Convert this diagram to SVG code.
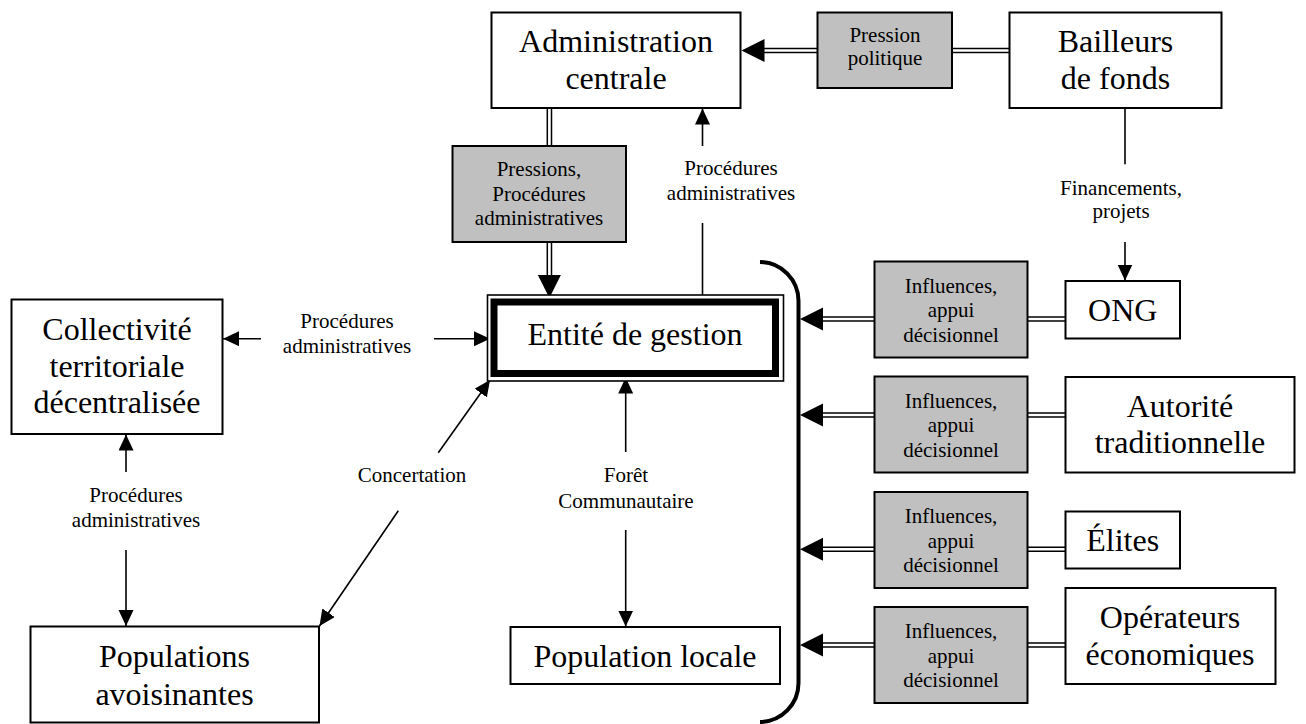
<svg xmlns="http://www.w3.org/2000/svg" xmlns:xlink="http://www.w3.org/1999/xlink" width="1306" height="724" viewBox="0 0 1306 724">
  <style>
    .box { fill: #ffffff; stroke: #000000; stroke-width: 2; }
    .gbox { fill: #c0c0c0; stroke: #000000; stroke-width: 2; }
    .big { font-family: "Liberation Serif", "Times New Roman", serif; font-size: 32px; fill: #000; text-anchor: middle; }
    .small { font-family: "Liberation Serif", "Times New Roman", serif; font-size: 21px; fill: #000; text-anchor: middle; }
    .ln { stroke: #000; stroke-width: 1.6; fill: none; }
    .dbl { stroke: #000; stroke-width: 1.5; fill: none; }
    .arr { stroke: #000; stroke-width: 1.6; fill: none; marker-end: url(#tip); }
    .head { fill: #000; }
  </style>
  <defs>
    <marker id="tip" markerUnits="userSpaceOnUse" markerWidth="17" markerHeight="16" refX="16" refY="7.5" orient="auto">
      <path d="M0,0 L16,7.5 L0,15 Z" fill="#000"/>
    </marker>
    <!-- large arrowhead for double-line links, pointing left, tip at origin -->
    <path id="bighead" d="M0,0 L23,-11.5 L23,11.5 Z"/>
  </defs>

  <rect width="1306" height="724" fill="#ffffff"/>

  <!-- connectors -->
  <g id="connectors">
    <!-- Bailleurs -> Pression politique -> Administration -->
    <line class="dbl" x1="952" y1="48.5" x2="1009" y2="48.5"/>
    <line class="dbl" x1="952" y1="52.5" x2="1009" y2="52.5"/>
    <line class="dbl" x1="763" y1="48.5" x2="817" y2="48.5"/>
    <line class="dbl" x1="763" y1="52.5" x2="817" y2="52.5"/>
    <use xlink:href="#bighead" class="head" transform="translate(741.5,50.5)"/>

    <!-- Administration -> Pressions -> Entité -->
    <line class="dbl" x1="547.3" y1="108" x2="547.3" y2="146"/>
    <line class="dbl" x1="551.5" y1="108" x2="551.5" y2="146"/>
    <line class="dbl" x1="547.3" y1="242" x2="547.3" y2="277"/>
    <line class="dbl" x1="551.5" y1="242" x2="551.5" y2="277"/>
    <use xlink:href="#bighead" class="head" transform="translate(549.4,298) rotate(-90)"/>

    <!-- Entité -> Administration (procédures) -->
    <line class="arr" x1="702.5" y1="146" x2="702.5" y2="108.5"/>
    <line class="ln" x1="702.5" y1="223" x2="702.5" y2="299"/>

    <!-- Collectivité <-> Entité -->
    <line class="arr" x1="261" y1="338.7" x2="223" y2="338.7"/>
    <line class="arr" x1="434" y1="338.7" x2="490" y2="338.7"/>

    <!-- Collectivité <-> Populations avoisinantes -->
    <line class="arr" x1="126" y1="472" x2="126" y2="434.5"/>
    <line class="arr" x1="126" y1="550" x2="126" y2="626"/>

    <!-- Concertation -->
    <line class="arr" x1="438.3" y1="452.7" x2="490" y2="380"/>
    <line class="arr" x1="398.3" y1="510.7" x2="319.5" y2="626"/>

    <!-- Forêt communautaire -->
    <line class="arr" x1="625.7" y1="452" x2="625.7" y2="377.5"/>
    <line class="arr" x1="625.7" y1="530" x2="625.7" y2="626.5"/>

    <!-- Bailleurs -> ONG -->
    <line class="ln" x1="1125" y1="108" x2="1125" y2="164.3"/>
    <line class="arr" x1="1125" y1="242" x2="1125" y2="280.5"/>

    <!-- bracket around Entité de gestion and Population locale -->
    <path d="M760,262 A39,39 0 0 1 798.5,301 L798.5,683 A39,39 0 0 1 760,722" stroke="#000" stroke-width="4" fill="none"/>

    <!-- influences from the right-hand actors -->
    <g>
      <line class="dbl" x1="821" y1="317" x2="874.5" y2="317"/>
      <line class="dbl" x1="821" y1="321" x2="874.5" y2="321"/>
      <line class="dbl" x1="1027.5" y1="317" x2="1065.5" y2="317"/>
      <line class="dbl" x1="1027.5" y1="321" x2="1065.5" y2="321"/>
      <use xlink:href="#bighead" class="head" transform="translate(800,319)"/>

      <line class="dbl" x1="821" y1="413" x2="874.5" y2="413"/>
      <line class="dbl" x1="821" y1="417" x2="874.5" y2="417"/>
      <line class="dbl" x1="1027.5" y1="413" x2="1065.5" y2="413"/>
      <line class="dbl" x1="1027.5" y1="417" x2="1065.5" y2="417"/>
      <use xlink:href="#bighead" class="head" transform="translate(800,415)"/>

      <line class="dbl" x1="821" y1="547.3" x2="874.5" y2="547.3"/>
      <line class="dbl" x1="821" y1="551.3" x2="874.5" y2="551.3"/>
      <line class="dbl" x1="1027.5" y1="547.3" x2="1065.5" y2="547.3"/>
      <line class="dbl" x1="1027.5" y1="551.3" x2="1065.5" y2="551.3"/>
      <use xlink:href="#bighead" class="head" transform="translate(800,549.3)"/>

      <line class="dbl" x1="821" y1="643" x2="874.5" y2="643"/>
      <line class="dbl" x1="821" y1="647" x2="874.5" y2="647"/>
      <line class="dbl" x1="1027.5" y1="643" x2="1065.5" y2="643"/>
      <line class="dbl" x1="1027.5" y1="647" x2="1065.5" y2="647"/>
      <use xlink:href="#bighead" class="head" transform="translate(800,645)"/>
    </g>

    <!-- connector labels -->
    <text class="small" x="731" y="175">Procédures</text>
    <text class="small" x="731" y="200">administratives</text>
    <text class="small" x="347" y="328.3">Procédures</text>
    <text class="small" x="347" y="353.3">administratives</text>
    <text class="small" x="136" y="501.7">Procédures</text>
    <text class="small" x="136" y="526.7">administratives</text>
    <text class="small" x="412" y="481.7">Concertation</text>
    <text class="small" x="626" y="482.3">Forêt</text>
    <text class="small" x="626" y="507.7">Communautaire</text>
    <text class="small" x="1121" y="195">Financements,</text>
    <text class="small" x="1121" y="218">projets</text>
  </g>

  <!-- nodes -->
  <g id="administration-centrale">
    <rect class="box" x="491.5" y="12.5" width="249" height="95.5"/>
    <text class="big" x="616" y="52">Administration</text>
    <text class="big" x="616" y="88.5">centrale</text>
  </g>

  <g id="pression-politique">
    <rect class="gbox" x="817.5" y="12.5" width="134.5" height="75.5"/>
    <text class="small" x="885" y="41.5">Pression</text>
    <text class="small" x="885" y="65">politique</text>
  </g>

  <g id="bailleurs-de-fonds">
    <rect class="box" x="1009.5" y="12.5" width="212" height="95.5"/>
    <text class="big" x="1115.5" y="52">Bailleurs</text>
    <text class="big" x="1115.5" y="88.5">de fonds</text>
  </g>

  <g id="pressions-procedures">
    <rect class="gbox" x="452.5" y="146" width="173.5" height="96"/>
    <text class="small" x="539" y="176">Pressions,</text>
    <text class="small" x="539" y="200.5">Procédures</text>
    <text class="small" x="539" y="225">administratives</text>
  </g>

  <g id="entite-de-gestion">
    <rect x="487.5" y="295" width="296" height="86" fill="#fff" stroke="#000" stroke-width="1.6"/>
    <rect x="494" y="302" width="281.5" height="71.5" fill="#fff" stroke="#000" stroke-width="7"/>
    <text class="big" x="635" y="344.5">Entité de gestion</text>
  </g>

  <g id="collectivite-territoriale">
    <rect class="box" x="11.5" y="299.5" width="211" height="134.5"/>
    <text class="big" x="117" y="340">Collectivité</text>
    <text class="big" x="117" y="376.7">territoriale</text>
    <text class="big" x="117" y="413.3">décentralisée</text>
  </g>

  <g id="populations-avoisinantes">
    <rect class="box" x="30.5" y="626.5" width="288.5" height="96"/>
    <text class="big" x="174.5" y="666.7">Populations</text>
    <text class="big" x="174.5" y="705">avoisinantes</text>
  </g>

  <g id="population-locale">
    <rect class="box" x="510.5" y="627" width="269.5" height="57"/>
    <text class="big" x="645" y="666.7">Population locale</text>
  </g>

  <g id="influence-1">
    <rect class="gbox" x="874.5" y="261.5" width="153" height="96"/>
    <text class="small" x="951" y="292.5">Influences,</text>
    <text class="small" x="951" y="317">appui</text>
    <text class="small" x="951" y="341.5">décisionnel</text>
  </g>
  <g id="influence-2">
    <rect class="gbox" x="874.5" y="376.5" width="153" height="96"/>
    <text class="small" x="951" y="407.5">Influences,</text>
    <text class="small" x="951" y="432">appui</text>
    <text class="small" x="951" y="456.5">décisionnel</text>
  </g>
  <g id="influence-3">
    <rect class="gbox" x="874.5" y="492" width="153" height="96"/>
    <text class="small" x="951" y="523">Influences,</text>
    <text class="small" x="951" y="547.5">appui</text>
    <text class="small" x="951" y="572">décisionnel</text>
  </g>
  <g id="influence-4">
    <rect class="gbox" x="874.5" y="607" width="153" height="96"/>
    <text class="small" x="951" y="638">Influences,</text>
    <text class="small" x="951" y="662.5">appui</text>
    <text class="small" x="951" y="687">décisionnel</text>
  </g>

  <g id="ong">
    <rect class="box" x="1065.5" y="281" width="114.5" height="57.5"/>
    <text class="big" x="1122.7" y="320.5">ONG</text>
  </g>

  <g id="autorite-traditionnelle">
    <rect class="box" x="1065.5" y="377" width="229" height="95.5"/>
    <text class="big" x="1180" y="416.7">Autorité</text>
    <text class="big" x="1180" y="453.3">traditionnelle</text>
  </g>

  <g id="elites">
    <rect class="box" x="1065.5" y="511.5" width="114.5" height="57"/>
    <text class="big" x="1122.7" y="550.5">Élites</text>
  </g>

  <g id="operateurs-economiques">
    <rect class="box" x="1065.5" y="588" width="210" height="96"/>
    <text class="big" x="1170" y="628.3">Opérateurs</text>
    <text class="big" x="1170" y="665">économiques</text>
  </g>
</svg>
